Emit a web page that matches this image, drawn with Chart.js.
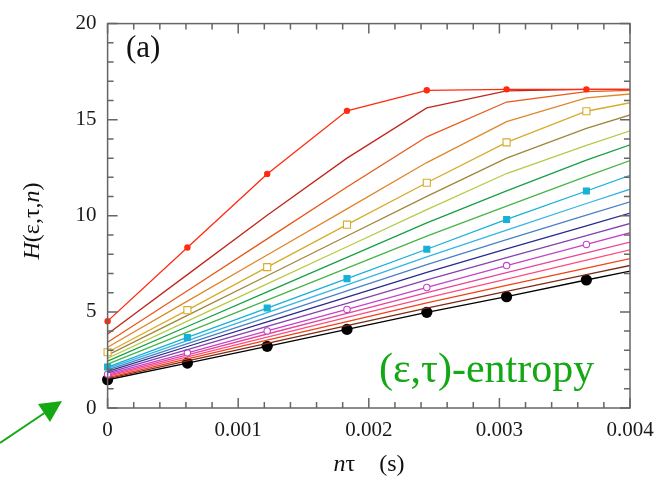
<!DOCTYPE html>
<html>
<head>
<meta charset="utf-8">
<script src="https://cdn.jsdelivr.net/npm/chart.js@4/dist/chart.umd.min.js"></script>
<style>
  html, body { margin: 0; padding: 0; background: #fff; }
</style>
</head>
<body>
<canvas id="entropy-chart" width="668" height="480"></canvas>
<script>
// n*tau (s) for n = 0..7 (last point lies past the axis and gets clipped)
const nTau = [0, 0.000611, 0.001222, 0.001833, 0.002444, 0.003055, 0.003666, 0.004277];

// H(eps, tau, n), one array per curve, top curve first
const h01 = [4.52, 8.35, 12.18, 15.46, 16.53, 16.58, 16.58, 16.58];
const h02 = [3.85, 6.94, 10.03, 13.00, 15.61, 16.50, 16.58, 16.58];
const h03 = [3.42, 6.10, 8.80, 11.50, 14.11, 15.92, 16.46, 16.58];
const h04 = [3.16, 5.56, 7.96, 10.36, 12.77, 14.90, 16.14, 16.50];
const h05 = [2.90, 5.09, 7.33, 9.54, 11.72, 13.82, 15.44, 16.25];
const h06 = [2.75, 4.82, 6.88, 8.95, 11.01, 13.00, 14.55, 15.82];
const h07 = [2.59, 4.52, 6.46, 8.39, 10.32, 12.20, 13.67, 15.04];
const h08 = [2.44, 4.24, 6.04, 7.84, 9.63, 11.30, 12.90, 14.35];
const h09 = [2.28, 3.95, 5.61, 7.28, 8.94, 10.50, 12.05, 13.55];
const h10 = [2.13, 3.67, 5.20, 6.73, 8.26, 9.81, 11.29, 12.78];
const h11 = [2.06, 3.51, 4.96, 6.41, 7.86, 9.26, 10.64, 12.00];
const h12 = [1.98, 3.35, 4.72, 6.09, 7.46, 8.76, 10.03, 11.30];
const h13 = [1.91, 3.20, 4.48, 5.77, 7.06, 8.28, 9.48, 10.68];
const h14 = [1.83, 3.04, 4.25, 5.45, 6.66, 7.82, 8.97, 10.12];
const h15 = [1.76, 2.87, 4.01, 5.13, 6.27, 7.41, 8.51, 9.62];
const h16 = [1.70, 2.77, 3.85, 4.92, 6.00, 7.04, 8.07, 9.10];
const h17 = [1.64, 2.66, 3.69, 4.71, 5.73, 6.71, 7.69, 8.67];
const h18 = [1.58, 2.55, 3.53, 4.50, 5.47, 6.38, 7.28, 8.18];
const h19 = [1.53, 2.45, 3.36, 4.28, 5.20, 6.07, 6.94, 7.81];
const h20 = [1.47, 2.34, 3.21, 4.09, 4.98, 5.79, 6.66, 7.50];

const curves = [h01, h02, h03, h04, h05, h06, h07, h08, h09, h10,
                h11, h12, h13, h14, h15, h16, h17, h18, h19, h20];

const curveColors = [
    '#ff2a10', '#c0281c', '#e85818', '#e0862c', '#d6ac2c',
    '#a0863a', '#b6ca46', '#16a046', '#46b446', '#18b0d6',
    '#34b4e4', '#4a80c6', '#2a2a92', '#8442b0', '#c444c8',
    '#e8449a', '#ff4c80', '#f04218', '#7e2a1a', '#000000'
];

// marker look for the curves that carry symbols
const markers = {
    0:  { style: 'circle', radius: 3.2, fill: true },
    4:  { style: 'rect',   radius: 5,   fill: false },
    9:  { style: 'rect',   radius: 5,   fill: true },
    14: { style: 'circle', radius: 3.2, fill: false },
    19: { style: 'circle', radius: 5.6, fill: true }
};

const xTickLabels = ['0', '0.001', '0.002', '0.003', '0.004'];
const yTickLabels = ['0', '5', '10', '15', '20'];

const datasets = curves.map((vals, i) => {
    const m = markers[i];
    return {
        data: vals.map((v, k) => ({ x: nTau[k], y: v })),
        borderColor: curveColors[i],
        borderWidth: 1.3,
        pointStyle: m ? m.style : 'circle',
        pointRadius: m ? m.radius : 0,
        pointBorderWidth: m && !m.fill ? 1.1 : 0,
        pointBackgroundColor: m && m.fill ? curveColors[i] : '#ffffff',
        pointBorderColor: curveColors[i],
        clip: { left: 8, top: 5, right: 0, bottom: 5 },
        tension: 0
    };
});

const serif = "'Liberation Serif', 'DejaVu Serif', serif";
const green = '#14a814';

const framePlugin = {
    id: 'frame',
    afterDatasetsDraw(chart) {
        const { ctx, chartArea: a, scales } = chart;
        const x = scales.x, y = scales.y;
        ctx.save();
        ctx.strokeStyle = '#666';
        ctx.lineWidth = 1.5;
        ctx.strokeRect(a.left, a.top, a.right - a.left, a.bottom - a.top);

        ctx.beginPath();
        for (let k = 0; k <= 20; k++) {
            const px = x.getPixelForValue(k * 0.0002);
            const len = k % 5 === 0 ? 10 : 6;
            ctx.moveTo(px, a.bottom); ctx.lineTo(px, a.bottom - len);
            ctx.moveTo(px, a.top); ctx.lineTo(px, a.top + len);
        }
        for (let k = 0; k <= 20; k++) {
            const py = y.getPixelForValue(k);
            const len = k % 5 === 0 ? 10 : 6;
            ctx.moveTo(a.left, py); ctx.lineTo(a.left + len, py);
            ctx.moveTo(a.right, py); ctx.lineTo(a.right - len, py);
        }
        ctx.stroke();

        // panel tag and annotation
        ctx.fillStyle = '#111';
        ctx.font = '31px ' + serif;
        ctx.textBaseline = 'alphabetic';
        ctx.textAlign = 'left';
        ctx.fillText('(a)', 126, 57);

        ctx.fillStyle = green;
        ctx.font = '42px ' + serif;
        ctx.fillText('(ε,τ)-entropy', 379, 382);

        // arrow in the lower left corner
        ctx.strokeStyle = green;
        ctx.lineWidth = 2;
        ctx.beginPath();
        ctx.moveTo(0, 443);
        ctx.lineTo(46, 412);
        ctx.stroke();
        ctx.beginPath();
        ctx.moveTo(62, 401);
        ctx.lineTo(38, 404);
        ctx.lineTo(50, 422);
        ctx.closePath();
        ctx.fill();

        // axis titles with mixed italic parts
        const drawParts = (parts, size, cx, cy) => {
            let total = 0;
            parts.forEach(p => { ctx.font = p[1] + size + 'px ' + serif; total += ctx.measureText(p[0]).width; });
            let cur = cx - total / 2;
            parts.forEach(p => {
                ctx.font = p[1] + size + 'px ' + serif;
                ctx.fillText(p[0], cur, cy);
                cur += ctx.measureText(p[0]).width;
            });
        };
        ctx.fillStyle = '#111';
        ctx.textBaseline = 'middle';
        drawParts([['n', 'italic '], ['τ    (s)', '']], 24, 369, 465);

        ctx.save();
        ctx.translate(33, 221);
        ctx.rotate(-Math.PI / 2);
        drawParts([['H', 'italic '], ['(ε,τ,', ''], ['n', 'italic '], [')', '']], 24, 0, 0);
        ctx.restore();

        ctx.restore();
    }
};

new Chart(document.getElementById('entropy-chart'), {
    type: 'line',
    data: { datasets: datasets },
    options: {
        responsive: false,
        animation: false,
        events: [],
        layout: { padding: { top: 17, right: 38, left: 0, bottom: 0 } },
        plugins: { legend: { display: false }, tooltip: { enabled: false } },
        scales: {
            x: {
                type: 'linear',
                min: 0,
                max: 0.004,
                afterFit: (s) => { s.height = 72; },
                grid: { display: false, drawTicks: false, tickLength: 0 },
                border: { display: false },
                ticks: {
                    stepSize: 0.001,
                    padding: 10,
                    color: '#1a1a1a',
                    font: { family: serif, size: 21 },
                    maxRotation: 0,
                    callback: (v, idx) => xTickLabels[idx]
                }
            },
            y: {
                type: 'linear',
                min: 0,
                max: 20,
                afterFit: (s) => { s.width = 107.6; },
                grid: { display: false, drawTicks: false, tickLength: 0 },
                border: { display: false },
                ticks: {
                    stepSize: 5,
                    padding: 11,
                    color: '#1a1a1a',
                    font: { family: serif, size: 21 },
                    callback: (v, idx) => yTickLabels[idx]
                }
            }
        }
    },
    plugins: [framePlugin]
});
</script>
</body>
</html>
